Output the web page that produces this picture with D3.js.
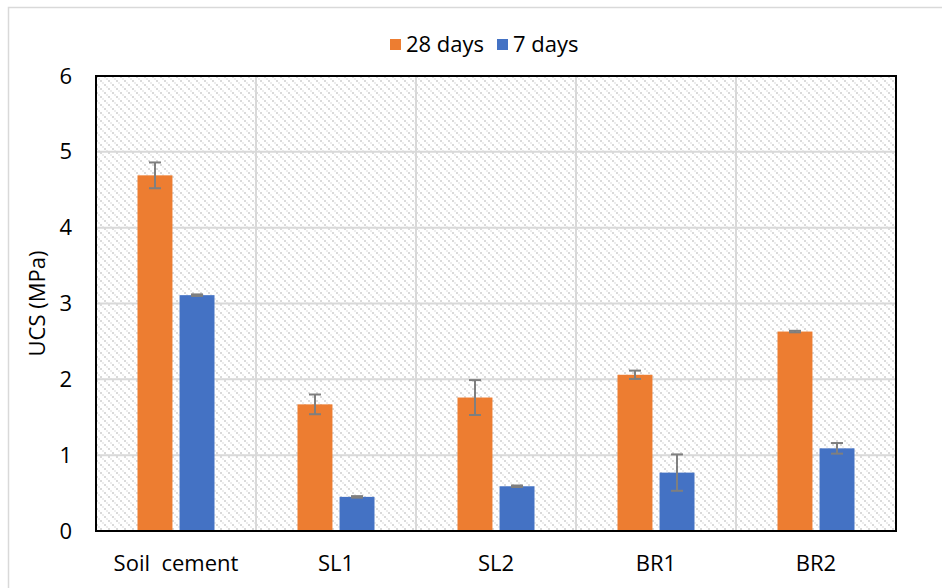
<!DOCTYPE html>
<html>
<head>
<meta charset="utf-8">
<script src="https://cdn.jsdelivr.net/npm/d3@7"></script>
<style>
  body { margin: 0; background: #fff; }
  text { font-family: "Open Sans", "Liberation Sans", sans-serif; fill: #000; }
</style>
</head>
<body>
<svg id="chart" width="942" height="588"></svg>
<script>
// data
const categories = ["Soil  cement", "SL1", "SL2", "BR1", "BR2"];
const seriesNames = ["28 days", "7 days"];
const ucs28 = [4.69, 1.67, 1.76, 2.06, 2.63];
const err28 = [0.17, 0.13, 0.23, 0.055, 0.01];
const ucs7 = [3.11, 0.45, 0.59, 0.77, 1.09];
const err7 = [0.01, 0.01, 0.01, 0.24, 0.07];
const yTicks = [0, 1, 2, 3, 4, 5, 6];
const colors = ["#ed7d31", "#4472c4"];
const fontSize = 22;

const svg = d3.select("#chart");
const margin = {left: 96, top: 76, right: 46, bottom: 57};
const width = 942 - margin.left - margin.right,
      height = 588 - margin.top - margin.bottom;

// outer chart frame
svg.append("rect")
  .attr("x", 8.5).attr("y", 7.5)
  .attr("width", 960).attr("height", 600)
  .attr("fill", "none").attr("stroke", "#d9d9d9").attr("stroke-width", 1.5);

// hatch pattern for plot background (diagonal rows of small grey squares)
const defs = svg.append("defs");
const pat = defs.append("pattern")
  .attr("id", "hatch")
  .attr("patternUnits", "userSpaceOnUse")
  .attr("width", 8).attr("height", 8);
pat.append("rect").attr("width", 8).attr("height", 8).attr("fill", "#fff");
pat.selectAll("rect.sq").data([0, 2, 4, 6]).join("rect")
  .attr("class", "sq")
  .attr("x", d => d).attr("y", d => d)
  .attr("width", 2).attr("height", 2)
  .attr("fill", d => d % 4 === 0 ? "#dadada" : "#ededed");

const g = svg.append("g").attr("transform", `translate(${margin.left},${margin.top})`);

const x = d3.scaleBand().domain(categories).range([0, width]);
const y = d3.scaleLinear().domain([0, 6]).range([height, 0]);
const x1 = d3.scaleBand().domain(seriesNames).range([0, 77]).paddingInner(13 / 77);

g.append("rect").attr("width", width).attr("height", height).attr("fill", "url(#hatch)");

// grid
g.append("g").selectAll("line").data(yTicks.slice(1)).join("line")
  .attr("x1", 0).attr("x2", width)
  .attr("y1", d => y(d)).attr("y2", d => y(d))
  .attr("stroke", "#d9d9d9").attr("stroke-width", 2);
g.append("g").selectAll("line").data(categories.slice(1)).join("line")
  .attr("x1", d => x(d)).attr("x2", d => x(d))
  .attr("y1", 0).attr("y2", height)
  .attr("stroke", "#d9d9d9").attr("stroke-width", 2);

// bars
const rows = categories.map((c, i) => ({
  cat: c,
  vals: [
    {s: seriesNames[0], v: ucs28[i], e: err28[i], c: colors[0]},
    {s: seriesNames[1], v: ucs7[i], e: err7[i], c: colors[1]}
  ]
}));

const grp = g.selectAll(".grp").data(rows).join("g")
  .attr("class", "grp")
  .attr("transform", d => `translate(${x(d.cat) + x.bandwidth() / 2 - 38.5},0)`);

grp.selectAll("rect").data(d => d.vals).join("rect")
  .attr("x", d => x1(d.s))
  .attr("width", x1.bandwidth())
  .attr("y", d => y(d.v))
  .attr("height", d => height - y(d.v))
  .attr("fill", d => d.c);

// error bars
const cx = d => x1(d.s) + x1.bandwidth() / 2;
const eb = grp.selectAll(".eb").data(d => d.vals).join("g").attr("class", "eb")
  .attr("stroke", "#7f7f7f").attr("stroke-width", 2);
eb.append("line")
  .attr("x1", cx).attr("x2", cx)
  .attr("y1", d => y(d.v + d.e)).attr("y2", d => y(d.v - d.e));
eb.append("line")
  .attr("x1", d => cx(d) - 6).attr("x2", d => cx(d) + 6)
  .attr("y1", d => y(d.v + d.e)).attr("y2", d => y(d.v + d.e));
eb.append("line")
  .attr("x1", d => cx(d) - 6).attr("x2", d => cx(d) + 6)
  .attr("y1", d => y(d.v - d.e)).attr("y2", d => y(d.v - d.e));

// plot border
g.append("rect").attr("width", width).attr("height", height)
  .attr("fill", "none").attr("stroke", "#000").attr("stroke-width", 2);

// axes
const yAxis = g.append("g")
  .call(d3.axisLeft(y).tickValues(yTicks).tickFormat(d3.format("d")).tickSize(0).tickPadding(24));
yAxis.select(".domain").remove();
yAxis.selectAll("text").attr("font-size", fontSize).style("font-family", "'Open Sans', sans-serif");

const xAxis = g.append("g").attr("transform", `translate(0,${height})`)
  .call(d3.axisBottom(x).tickSize(0).tickPadding(24));
xAxis.select(".domain").remove();
xAxis.selectAll("text").attr("font-size", fontSize)
  .style("font-family", "'Open Sans', sans-serif")
  .style("white-space", "pre");

// y title
svg.append("text")
  .attr("transform", `translate(45,${margin.top + height / 2}) rotate(-90)`)
  .attr("text-anchor", "middle")
  .attr("font-size", fontSize)
  .text("UCS (MPa)");

// legend
const legX = [390, 497];
const leg = svg.append("g").selectAll("g").data(seriesNames).join("g")
  .attr("transform", (d, i) => `translate(${legX[i]},39)`);
leg.append("rect").attr("width", 11).attr("height", 11).attr("fill", (d, i) => colors[i]);
leg.append("text").attr("x", 16).attr("y", 13).attr("font-size", fontSize).text(d => d);
</script>
</body>
</html>
